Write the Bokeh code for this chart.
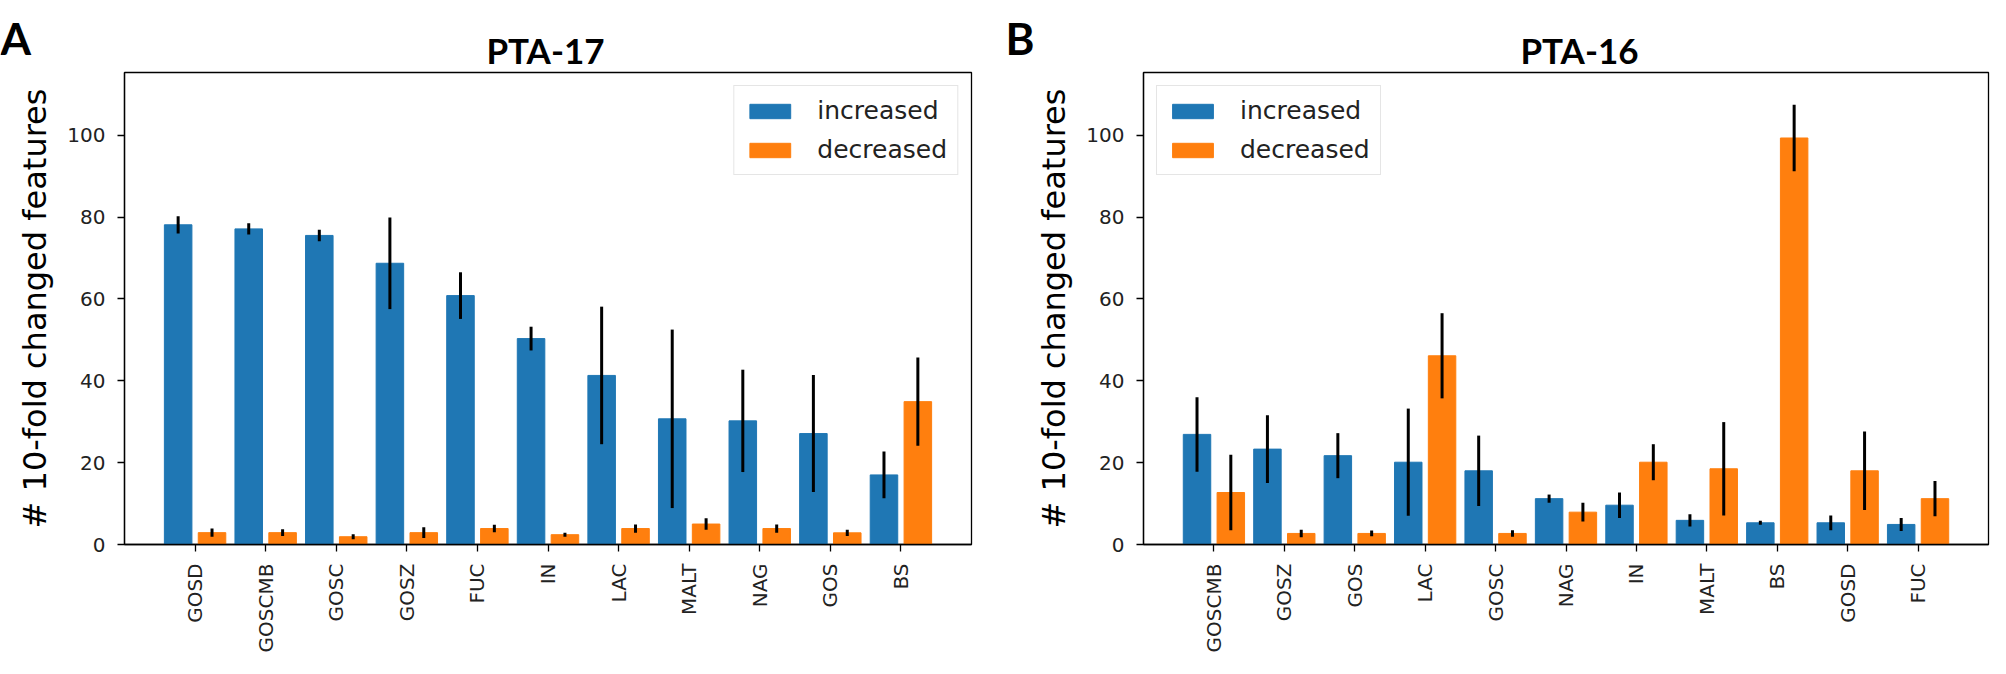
import numpy as np
from bokeh.plotting import figure
from bokeh.models import Range1d, FixedTicker
from bokeh.layouts import row, column
from bokeh.core.properties import value
from bokeh.embed import file_html
from bokeh.resources import INLINE

# ---- Panel A: PTA-17 ----
cats_a = ["GOSD", "GOSCMB", "GOSC", "GOSZ", "FUC", "IN", "LAC", "MALT", "NAG", "GOS", "BS"]
inc_a = [78.1, 77.1, 75.5, 68.7, 60.8, 50.3, 41.3, 30.7, 30.2, 27.1, 17.0]
inc_err_a = [2.1, 1.4, 1.4, 11.2, 5.7, 2.9, 16.8, 21.8, 12.5, 14.3, 5.7]
dec_a = [2.9, 2.9, 1.9, 2.9, 3.9, 2.4, 3.9, 5.0, 3.9, 2.85, 34.9]
dec_err_a = [1.0, 0.8, 0.6, 1.3, 0.9, 0.5, 1.0, 1.4, 1.0, 0.75, 10.8]

# ---- Panel B: PTA-16 ----
cats_b = ["GOSCMB", "GOSZ", "GOS", "LAC", "GOSC", "NAG", "IN", "MALT", "BS", "GOSD", "FUC"]
inc_b = [26.9, 23.3, 21.7, 20.1, 18.0, 11.2, 9.6, 5.9, 5.3, 5.3, 4.9]
inc_err_b = [9.1, 8.3, 5.5, 13.1, 8.6, 1.0, 3.1, 1.5, 0.5, 1.8, 1.6]
dec_b = [12.7, 2.7, 2.7, 46.1, 2.7, 7.9, 20.1, 18.5, 99.3, 18.0, 11.2]
dec_err_b = [9.2, 0.9, 0.7, 10.4, 0.8, 2.3, 4.4, 11.4, 8.1, 9.6, 4.3]

panel_letters = ["A", "B"]
panel_titles = ["PTA-17", "PTA-16"]
y_ticks = [0, 20, 40, 60, 80, 100]
y_label = "# 10-fold changed features"
series_names = ["increased", "decreased"]

BLUE = "#1f77b4"
ORANGE = "#ff7f0e"
TOP_H = 70
PANEL_H = 658 - TOP_H

# ---- heading strip: panel letters and titles (pixel-like coordinates) ----
head = figure(width=1990, height=TOP_H, x_range=Range1d(0, 1990),
              y_range=Range1d(TOP_H, 0), output_backend="svg",
              toolbar_location=None, min_border=0,
              x_axis_type=None, y_axis_type=None)
head.grid.visible = False
head.outline_line_color = None
head.text(x=[0, 1005], y=[37, 37], text=panel_letters,
          text_font=value("Lato"), text_font_style="bold",
          text_font_size="44px", text_align="left",
          text_baseline="alphabetic", text_color="black")
head.text(x=[545, 1579], y=[49, 49], text=panel_titles,
          text_font=value("Lato"), text_font_style="bold",
          text_font_size="35px", text_align="center",
          text_baseline="alphabetic", text_color="black")


def panel(cats, inc, inc_err, dec, dec_err, width, bl, br, legend_loc):
    p = figure(width=width, height=PANEL_H, x_range=Range1d(-1, 11),
               y_range=Range1d(0, 115.3), output_backend="svg",
               toolbar_location=None, min_border_left=bl, min_border_right=br,
               min_border_top=2, min_border_bottom=114)
    idx = np.arange(len(cats))
    xi = idx - 0.24
    xd = idx + 0.24
    inc = np.array(inc)
    dec = np.array(dec)
    ie = np.array(inc_err)
    de = np.array(dec_err)
    p.vbar(x=xi, top=inc, width=0.39, fill_color=BLUE, line_color=BLUE,
           legend_label=series_names[0])
    p.vbar(x=xd, top=dec, width=0.39, fill_color=ORANGE, line_color=ORANGE,
           legend_label=series_names[1])
    p.segment(x0=xi, y0=inc - ie, x1=xi, y1=inc + ie, line_color="black",
              line_width=3)
    p.segment(x0=xd, y0=dec - de, x1=xd, y1=dec + de, line_color="black",
              line_width=3)

    p.xgrid.visible = False
    p.ygrid.visible = False
    p.outline_line_color = "black"
    p.outline_line_width = 1.3
    p.outline_line_alpha = 1

    p.xaxis.ticker = FixedTicker(ticks=list(range(len(cats))))
    p.xaxis.major_label_overrides = {i: c for i, c in enumerate(cats)}
    p.xaxis.major_label_orientation = np.pi / 2
    p.yaxis.ticker = FixedTicker(ticks=y_ticks)
    for ax in (p.xaxis, p.yaxis):
        ax.minor_tick_line_color = None
        ax.major_tick_in = 0
        ax.major_tick_out = 7
        ax.major_tick_line_width = 1.3
        ax.major_tick_line_color = "black"
        ax.axis_line_color = "black"
        ax.axis_line_width = 1.3
        ax.major_label_text_font = "DejaVu Sans"
        ax.major_label_text_font_size = "20px"
        ax.major_label_text_color = "#222222"
        ax.major_label_standoff = 12
    p.yaxis.axis_label = y_label
    p.yaxis.axis_label_text_font = "DejaVu Sans"
    p.yaxis.axis_label_text_font_size = "32px"
    p.yaxis.axis_label_text_font_style = "normal"
    p.yaxis.axis_label_text_color = "black"
    p.yaxis.axis_label_standoff = 10

    lg = p.legend[0]
    lg.location = legend_loc
    lg.label_text_font = "DejaVu Sans"
    lg.label_text_font_size = "25px"
    lg.label_text_color = "#222222"
    lg.glyph_width = 51
    lg.glyph_height = 18
    lg.label_standoff = 22
    lg.padding = 10
    lg.spacing = 10
    lg.margin = 13
    lg.border_line_color = "#cccccc"
    lg.border_line_width = 1.5
    lg.background_fill_alpha = 0.8
    return p


pa = panel(cats_a, inc_a, inc_err_a, dec_a, dec_err_a, 990, 124, 19,
           "top_right")
pb = panel(cats_b, inc_b, inc_err_b, dec_b, dec_err_b, 1000, 153, 2,
           "top_left")

layout = column(head, row(pa, pb))
open("out.html", "w").write(file_html(layout, INLINE))
